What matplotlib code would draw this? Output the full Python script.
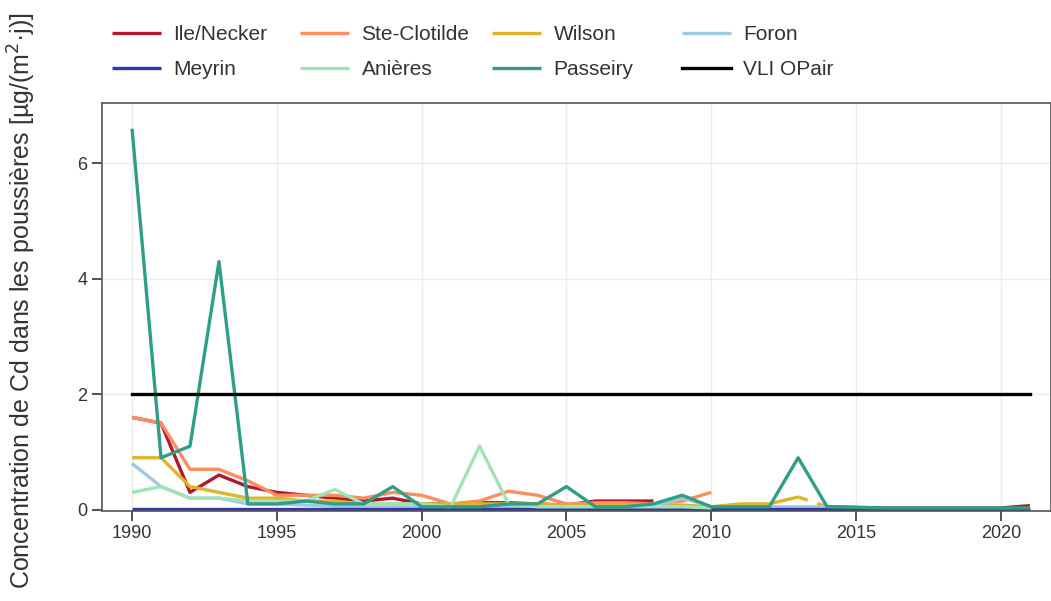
import numpy as np
import matplotlib
matplotlib.use("Agg")
import matplotlib.pyplot as plt

plt.rcParams["font.family"] = ["Liberation Sans", "DejaVu Sans"]

# ── Data ─────────────────────────────────────────────────────────────────────

years = list(range(1990, 2022))

ile_necker = [1.6, 1.5, 0.3, 0.6, 0.4, 0.3, 0.25, 0.2, 0.15, 0.2, 0.1, 0.1,
              0.12, 0.12, 0.1, 0.08, 0.15, 0.15, 0.15, None, None, None, None, None,
              0.05, 0.04, 0.03, 0.03, 0.03, 0.03, 0.03, 0.07]
ste_clotilde = [1.6, 1.5, 0.7, 0.7, 0.5, 0.25, 0.25, 0.25, 0.2, 0.3, 0.25, 0.1,
                0.15, 0.32, 0.25, 0.1, 0.12, 0.12, 0.1, 0.15, 0.3, None, None, None,
                None, None, None, None, None, None, None, None]
wilson = [0.9, 0.9, 0.4, 0.3, 0.2, 0.2, 0.15, 0.15, 0.1, 0.1, 0.1, 0.1,
          0.1, 0.1, 0.1, 0.08, 0.08, 0.08, 0.08, 0.08, 0.05, 0.1, 0.1, 0.22,
          None, None, None, None, None, None, None, None]
wilson_gap_x = [2013, 2014]
wilson_gap_y = [0.22, 0.05]
foron = [0.8, 0.4, 0.2, 0.2, 0.1, 0.1, 0.08, 0.06, 0.06, 0.06, 0.05, 0.05,
         0.05, 0.05, 0.05, 0.05, 0.05, 0.05, 0.05, 0.2, 0.05, 0.05, 0.05, 0.05,
         0.05, None, None, None, None, None, None, None]
meyrin = [0.02] * 32
anieres = [0.3, 0.4, 0.2, 0.2, 0.15, 0.15, 0.15, 0.35, 0.1, 0.1, 0.1, 0.05,
           1.1, 0.1, 0.05, 0.05, 0.05, 0.05, 0.05, 0.05, 0.03, None, None, None,
           None, None, None, None, None, None, None, None]
passeiry = [6.6, 0.9, 1.1, 4.3, 0.1, 0.1, 0.15, 0.1, 0.1, 0.4, 0.05, 0.05,
            0.05, 0.1, 0.1, 0.4, 0.05, 0.05, 0.1, 0.25, 0.05, 0.05, 0.05, 0.9,
            0.05, 0.04, 0.03, 0.03, 0.03, 0.03, 0.03, 0.03]
vli_years = [1990, 2021]
vli_value = [2, 2]

series = [
    ("Ile/Necker", ile_necker, "#b2182b"),
    ("Ste-Clotilde", ste_clotilde, "#fc8d62"),
    ("Wilson", wilson, "#dfb32a"),
    ("Foron", foron, "#9ecae1"),
    ("Meyrin", meyrin, "#3535b0"),
    ("Anières", anieres, "#a1e3b7"),
    ("Passeiry", passeiry, "#2f9e86"),
]

# ── Plot ─────────────────────────────────────────────────────────────────────

fig = plt.figure(figsize=(10.51, 6.01), dpi=100)
ax = fig.add_axes([0.097, 0.150, 0.903, 0.679])

handles = {}
for name, vals, color in series:
    y = np.array([np.nan if v is None else v for v in vals], dtype=float)
    h, = ax.plot(years, y, color=color, lw=2.4, label=name, solid_capstyle="butt")
    handles[name] = h
    if name == "Wilson":
        ax.plot(wilson_gap_x, wilson_gap_y, color=color, lw=2.4, ls=(0, (3, 3)))

h, = ax.plot(vli_years, vli_value, color="black", lw=2.4, label="VLI OPair")
handles["VLI OPair"] = h

ax.set_xlim(1988.96, 2021.73)
ax.set_ylim(-0.02, 7.05)
ax.set_xticks(range(1990, 2021, 5))
ax.set_yticks([0, 2, 4, 6])
ax.grid(True, color="#ebebeb", lw=1)
ax.set_axisbelow(True)
ax.tick_params(direction="out", length=7, width=1.2, labelsize=13,
               colors="#333333", labelcolor="#333333")
for s in ax.spines.values():
    s.set_color("#555555")
    s.set_linewidth(1.2)

fig.text(0.021, 0.5, "Concentration de Cd dans les poussières [µg/(m$^2$·j)]",
         rotation=90, ha="center", va="center", fontsize=18, color="#333333")

# legend: one small legend per column so the column positions match
columns = [["Ile/Necker", "Meyrin"], ["Ste-Clotilde", "Anières"],
           ["Wilson", "Passeiry"], ["Foron", "VLI OPair"]]
col_x = [112, 300, 492, 682]
for names, x0 in zip(columns, col_x):
    leg = fig.legend([handles[k] for k in names], names, frameon=False,
                     loc="upper left", bbox_to_anchor=(x0 / 1051, 1 - 25 / 601),
                     fontsize=15, handlelength=2.35, handletextpad=0.6,
                     labelspacing=0.78, borderpad=0, borderaxespad=0,
                     labelcolor="#333333")

fig.savefig("out.png", dpi=100)
